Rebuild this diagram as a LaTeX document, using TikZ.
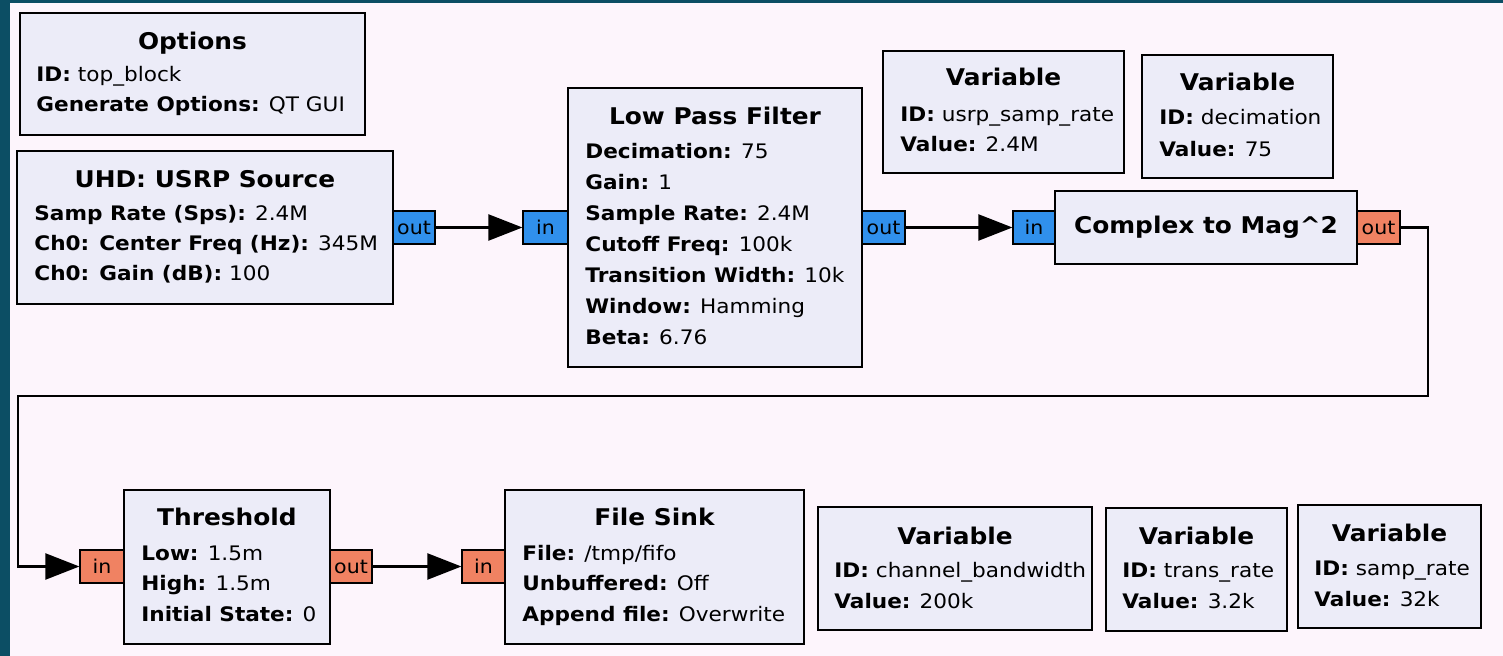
\documentclass[tikz,border=0pt]{standalone}
\usepackage{fontspec}
\setmainfont[FakeStretch=1.08]{DejaVu Sans}
\usetikzlibrary{arrows.meta}
\definecolor{tealbg}{RGB}{12,78,100}
\definecolor{canvas}{RGB}{253,245,252}
\definecolor{blockfill}{RGB}{236,236,248}
\definecolor{portblue}{RGB}{48,144,236}
\definecolor{portorange}{RGB}{240,130,98}
\tikzset{
  blockbox/.style={draw=black, line width=1pt, fill=blockfill, inner sep=0pt},
  portbox/.style={draw=black, line width=0.6pt, inner sep=0pt, font=\fontsize{9.5}{11}\selectfont},
  bport/.style={portbox, fill=portblue},
  oport/.style={portbox, fill=portorange},
  ttl/.style={font=\fontsize{11.5}{13}\selectfont\bfseries, anchor=base, inner sep=0pt},
  prm/.style={font=\fontsize{10}{12}\selectfont, anchor=base west, inner sep=0pt},
  wire/.style={line width=1.1pt, -{Triangle[length=17pt,width=13pt]}},
}
\newcommand\mkbox[7]{\node[#6, minimum width={(#4-#2)*0.5pt}, minimum height={(#5-#3)*0.5pt}] (#1) at ({(#2+#4)/2},{(#3+#5)/2}) {#7};}
\begin{document}
\begin{tikzpicture}[x=0.5pt, y=-0.5pt]
\useasboundingbox (0,0) rectangle (1503,656);
\fill[tealbg] (0,0) rectangle (1503,656);
\fill[canvas] (10,3) rectangle (1503,656);

% Options
\mkbox{opt}{20}{13}{365}{135}{blockbox}{}
\node[ttl] (opt-t) at (192.5,50) {Options};
\node[prm] (opt-1) at (36,82) {\textbf{ID:} top\_block};
\node[prm] (opt-2) at (36,112) {\textbf{Generate Options:} QT GUI};

% USRP Source
\mkbox{usrp}{17}{151}{393}{304}{blockbox}{}
\node[ttl] (usrp-t) at (205,188) {UHD: USRP Source};
\node[prm] (usrp-1) at (34,221) {\textbf{Samp Rate (Sps):} 2.4M};
\node[prm] (usrp-2) at (34,251) {\textbf{Ch0: Center Freq (Hz):} 345M};
\node[prm] (usrp-3) at (34,281) {\textbf{Ch0: Gain (dB):} 100};
\mkbox{usrp-out}{393}{211}{435}{244}{bport}{out}

% Low Pass Filter
\mkbox{lpf}{568}{88}{862}{367}{blockbox}{}
\node[ttl] (lpf-t) at (715,125) {Low Pass Filter};
\node[prm] (lpf-1) at (585,159) {\textbf{Decimation:} 75};
\node[prm] (lpf-2) at (585,190) {\textbf{Gain:} 1};
\node[prm] (lpf-3) at (585,221) {\textbf{Sample Rate:} 2.4M};
\node[prm] (lpf-4) at (585,252) {\textbf{Cutoff Freq:} 100k};
\node[prm] (lpf-5) at (585,283) {\textbf{Transition Width:} 10k};
\node[prm] (lpf-6) at (585,314) {\textbf{Window:} Hamming};
\node[prm] (lpf-7) at (585,345) {\textbf{Beta:} 6.76};
\mkbox{lpf-in}{523}{211}{568}{244}{bport}{in}
\mkbox{lpf-out}{862}{211}{905}{244}{bport}{out}

% Complex to Mag^2
\mkbox{cm}{1055}{191}{1357}{264}{blockbox}{}
\node[ttl, anchor=center] (cm-t) at (cm) {Complex to Mag\textasciicircum 2};
\mkbox{cm-in}{1013}{211}{1055}{244}{bport}{in}
\mkbox{cm-out}{1357}{211}{1400}{244}{oport}{out}

% Variables (top)
\mkbox{v1}{883}{51}{1124}{173}{blockbox}{}
\node[ttl] (v1-t) at (1003.5,86) {Variable};
\node[prm] (v1-1) at (900,122) {\textbf{ID:} usrp\_samp\_rate};
\node[prm] (v1-2) at (900,152) {\textbf{Value:} 2.4M};

\mkbox{v2}{1142}{55}{1333}{178}{blockbox}{}
\node[ttl] (v2-t) at (1237.5,91) {Variable};
\node[prm] (v2-1) at (1159,125) {\textbf{ID:} decimation};
\node[prm] (v2-2) at (1159,157) {\textbf{Value:} 75};

% Threshold
\mkbox{th}{124}{490}{330}{644}{blockbox}{}
\node[ttl] (th-t) at (227,526) {Threshold};
\node[prm] (th-1) at (141,561) {\textbf{Low:} 1.5m};
\node[prm] (th-2) at (141,591) {\textbf{High:} 1.5m};
\node[prm] (th-3) at (141,621) {\textbf{Initial State:} 0};
\mkbox{th-in}{80}{550}{124}{583}{oport}{in}
\mkbox{th-out}{330}{550}{372}{583}{oport}{out}

% File Sink
\mkbox{fs}{505}{490}{804}{644}{blockbox}{}
\node[ttl] (fs-t) at (654.5,526) {File Sink};
\node[prm] (fs-1) at (522,561) {\textbf{File:} /tmp/fifo};
\node[prm] (fs-2) at (522,591) {\textbf{Unbuffered:} Off};
\node[prm] (fs-3) at (522,621) {\textbf{Append file:} Overwrite};
\mkbox{fs-in}{462}{550}{505}{583}{oport}{in}

% Variables (bottom)
\mkbox{v3}{818}{507}{1092}{630}{blockbox}{}
\node[ttl] (v3-t) at (955,545) {Variable};
\node[prm] (v3-1) at (834,578) {\textbf{ID:} channel\_bandwidth};
\node[prm] (v3-2) at (834,609) {\textbf{Value:} 200k};

\mkbox{v4}{1106}{508}{1287}{631}{blockbox}{}
\node[ttl] (v4-t) at (1196.5,545) {Variable};
\node[prm] (v4-1) at (1122,578) {\textbf{ID:} trans\_rate};
\node[prm] (v4-2) at (1122,609) {\textbf{Value:} 3.2k};

\mkbox{v5}{1298}{505}{1481}{628}{blockbox}{}
\node[ttl] (v5-t) at (1389.5,542) {Variable};
\node[prm] (v5-1) at (1314,575) {\textbf{ID:} samp\_rate};
\node[prm] (v5-2) at (1314,607) {\textbf{Value:} 32k};

% Connections
\coordinate (bendA) at (1428,396);
\coordinate (bendB) at (18,396);
\draw[wire] (usrp-out.east) -- (lpf-in.west);
\draw[wire] (lpf-out.east) -- (cm-in.west);
\draw[wire] (cm-out.east) -| (bendA) -- (bendB) |- (th-in.west);
\draw[wire] (th-out.east) -- (fs-in.west);
\end{tikzpicture}
\end{document}
